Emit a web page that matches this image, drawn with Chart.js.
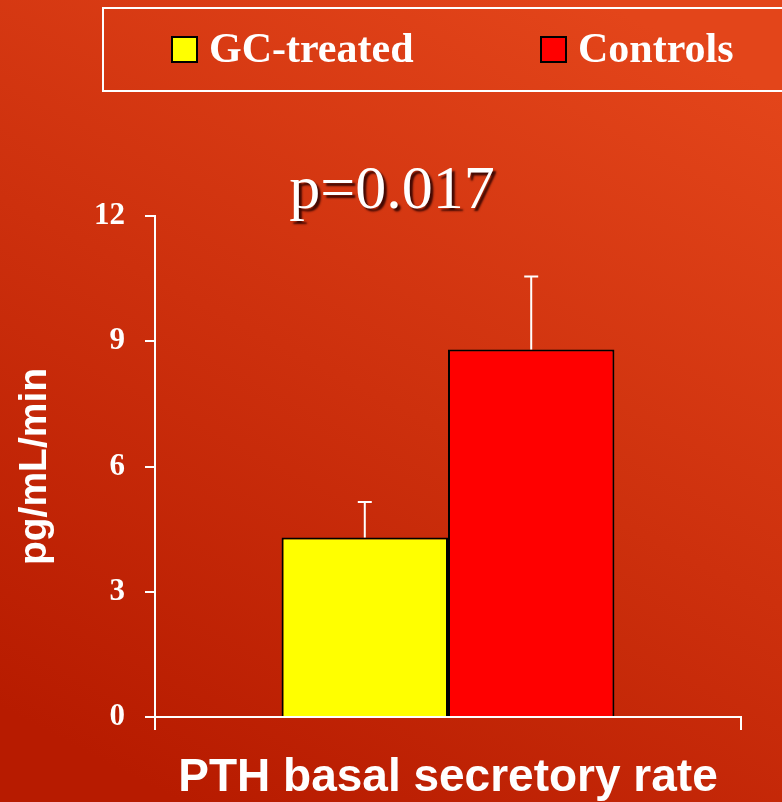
<!DOCTYPE html>
<html>
<head>
<meta charset="utf-8">
<script src="https://cdn.jsdelivr.net/npm/chart.js@4.4.1/dist/chart.umd.min.js"></script>
<style>
  body { margin: 0; background: #c92a08; }
  canvas { display: block; }
</style>
</head>
<body>
<canvas id="ChartA" width="782" height="802"></canvas>
<script>
// data
let categories = ['PTH basal secretory rate'];
let groups = ['GC-treated', 'Controls'];
let gcValues = [4.3];
let gcErrors = [0.85];
let ctrlValues = [8.8];
let ctrlErrors = [1.75];
let yTicks = [0, 3, 6, 9, 12];
let pText = 'p=0.017';
let yTitle = 'pg/mL/min';

// background gradient
const bgPlugin = {
  id: 'bg',
  beforeDraw(chart) {
    const c = chart.ctx;
    const g = c.createLinearGradient(600, 0, 180, 802);
    g.addColorStop(0, '#e3451a');
    g.addColorStop(1, '#b71b00');
    c.save();
    c.fillStyle = g;
    c.fillRect(0, 0, chart.width, chart.height);
    c.restore();
  }
};

// legend box and p value
const decoPlugin = {
  id: 'deco',
  afterDraw(chart) {
    const c = chart.ctx;
    c.save();
    c.strokeStyle = '#ffffff';
    c.lineWidth = 2;
    c.strokeRect(103, 8, 700, 83);

    const items = [
      { x: 172, text: groups[0], color: chart.data.datasets[0].backgroundColor },
      { x: 541, text: groups[1], color: chart.data.datasets[1].backgroundColor }
    ];
    c.font = 'bold 42px "Liberation Serif", "Times New Roman", serif';
    c.textBaseline = 'middle';
    items.forEach(function(it) {
      c.fillStyle = it.color;
      c.fillRect(it.x, 37, 25, 25);
      c.strokeStyle = '#000000';
      c.lineWidth = 2;
      c.strokeRect(it.x, 37, 25, 25);
      c.fillStyle = '#ffffff';
      c.fillText(it.text, it.x + 37, 51);
    });

    c.font = '62px "Liberation Serif", "Times New Roman", serif';
    c.textAlign = 'center';
    c.textBaseline = 'alphabetic';
    c.shadowColor = 'rgba(40,0,0,0.85)';
    c.shadowOffsetX = 3;
    c.shadowOffsetY = 3;
    c.shadowBlur = 2;
    c.fillStyle = '#ffffff';
    c.fillText(pText, 392, 208);
    c.restore();
  }
};

// error bars
const errPlugin = {
  id: 'errbars',
  afterDatasetsDraw(chart) {
    const c = chart.ctx;
    const yScale = chart.scales.y;
    c.save();
    c.strokeStyle = '#ffffff';
    c.lineWidth = 2;
    chart.data.datasets.forEach(function(ds, i) {
      const meta = chart.getDatasetMeta(i);
      meta.data.forEach(function(bar, j) {
        const top = yScale.getPixelForValue(ds.data[j] + ds.errors[j]);
        const base = yScale.getPixelForValue(ds.data[j]);
        c.beginPath();
        c.moveTo(bar.x, base);
        c.lineTo(bar.x, top);
        c.moveTo(bar.x - 7, top);
        c.lineTo(bar.x + 7, top);
        c.stroke();
      });
    });
    c.restore();
  }
};

var ctx = document.getElementById('ChartA').getContext('2d');
var myChart = new Chart(ctx, {
  type: 'bar',
  data: {
    labels: categories,
    datasets: [
      {
        label: groups[0],
        data: gcValues,
        errors: gcErrors,
        backgroundColor: '#ffff00',
        borderColor: '#000000',
        borderWidth: 2,
        categoryPercentage: 0.568,
        barPercentage: 1.0
      },
      {
        label: groups[1],
        data: ctrlValues,
        errors: ctrlErrors,
        backgroundColor: '#ff0000',
        borderColor: '#000000',
        borderWidth: 2,
        categoryPercentage: 0.568,
        barPercentage: 1.0
      }
    ]
  },
  options: {
    responsive: false,
    animation: false,
    layout: { padding: { top: 216, right: 41, left: 0, bottom: 0 } },
    plugins: {
      legend: { display: false },
      title: { display: false },
      tooltip: { enabled: false }
    },
    scales: {
      x: {
        afterFit: function(scale) { scale.height = 85; },
        grid: { drawOnChartArea: false, drawTicks: true, tickLength: 13, color: '#ffffff', lineWidth: 2 },
        border: { color: '#ffffff', width: 2 },
        ticks: { display: false },
        title: {
          display: true,
          text: categories[0],
          color: '#ffffff',
          font: { family: '"Liberation Sans", Arial, sans-serif', size: 46, weight: 'bold', lineHeight: 1.05 },
          padding: { top: 0, bottom: 0 }
        }
      },
      y: {
        min: 0,
        max: 12,
        afterFit: function(scale) { scale.width = 155; },
        afterBuildTicks: function(scale) {
          scale.ticks = yTicks.map(function(v) { return { value: v }; });
        },
        grid: { drawOnChartArea: false, drawTicks: true, tickLength: 10, color: '#ffffff', lineWidth: 2 },
        border: { color: '#ffffff', width: 2 },
        ticks: {
          color: '#ffffff',
          padding: 20,
          font: { family: '"Liberation Serif", "Times New Roman", serif', size: 31, weight: 'bold' }
        },
        title: {
          display: true,
          text: yTitle,
          color: '#ffffff',
          font: { family: '"Liberation Sans", Arial, sans-serif', size: 39, weight: 'bold' },
          padding: { top: 12, bottom: 0 }
        }
      }
    }
  },
  plugins: [bgPlugin, errPlugin, decoPlugin]
});
</script>
</body>
</html>
